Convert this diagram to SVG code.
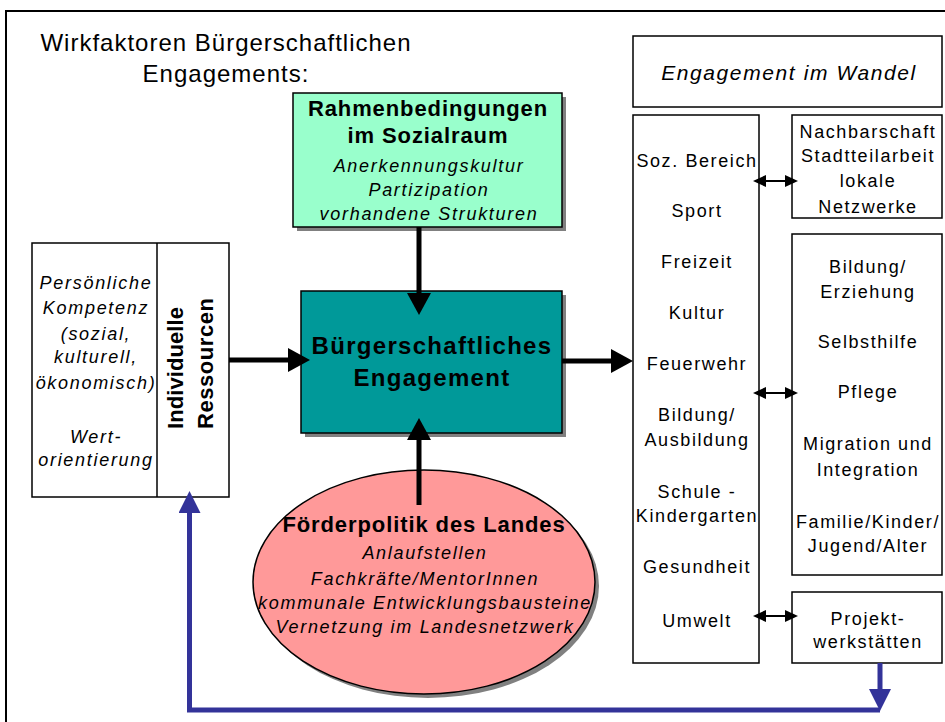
<svg xmlns="http://www.w3.org/2000/svg" width="945" height="722" viewBox="0 0 945 722">
<defs>
<style>
text{font-family:"Liberation Sans",Arial,sans-serif;fill:#000}
.title{font-size:24px;letter-spacing:1px;text-anchor:middle}
.hb{font-size:22px;font-weight:bold;letter-spacing:0.9px;text-anchor:middle}
.hc{font-size:24px;font-weight:bold;letter-spacing:1.3px;text-anchor:middle}
.it{font-size:18px;font-style:italic;letter-spacing:1.7px;text-anchor:middle}
.rg{font-size:18px;letter-spacing:1.6px;text-anchor:middle}
.iw{font-size:21px;font-style:italic;letter-spacing:1.6px;text-anchor:middle}
.vt{font-size:22px;font-weight:bold}
.box{fill:#fff;stroke:#000;stroke-width:1.5}
.shadow{fill:#808080}
.conn{stroke:#000;stroke-width:5;fill:none}
.dbl{stroke:#000;stroke-width:2;fill:none}
.blue{stroke:#333399;stroke-width:5;fill:none}
</style>
<marker id="ah" markerUnits="userSpaceOnUse" markerWidth="22" markerHeight="24" refX="0" refY="12" orient="auto"><path d="M0,0 L22,12 L0,24 z" fill="#000"/></marker>
<marker id="sh" markerUnits="userSpaceOnUse" markerWidth="13" markerHeight="12" refX="0" refY="6" orient="auto-start-reverse"><path d="M0,0 L13,6 L0,12 z" fill="#000"/></marker>
<marker id="bh" markerUnits="userSpaceOnUse" markerWidth="22" markerHeight="22" refX="0" refY="11" orient="auto"><path d="M0,0 L22,11 L0,22 z" fill="#333399"/></marker>
</defs>
<rect x="0" y="0" width="945" height="722" fill="#fff"/>
<rect x="6" y="11" width="1000" height="800" fill="none" stroke="#000" stroke-width="2"/>

<g id="title">
<text class="title" x="226" y="51">Wirkfaktoren Bürgerschaftlichen</text>
<text class="title" x="226" y="82">Engagements:</text>
</g>

<g id="rahmenbedingungen">
<rect class="shadow" x="297" y="97" width="269" height="134"/>
<rect x="293" y="93" width="269" height="134" fill="#99FFCC" stroke="#000" stroke-width="1.5"/>
<text class="hb" x="428" y="115.5">Rahmenbedingungen</text>
<text class="hb" x="428" y="143">im Sozialraum</text>
<text class="it" x="429" y="171.5">Anerkennungskultur</text>
<text class="it" x="429" y="196">Partizipation</text>
<text class="it" x="429" y="219.5">vorhandene Strukturen</text>
</g>

<g id="engagement">
<rect class="shadow" x="305" y="295" width="261" height="142"/>
<rect x="301" y="291" width="261" height="142" fill="#009999" stroke="#000" stroke-width="1.5"/>
<text class="hc" x="432" y="354">Bürgerschaftliches</text>
<text class="hc" x="432" y="386">Engagement</text>
</g>

<g id="foerderpolitik">
<ellipse class="shadow" cx="428" cy="586" rx="171" ry="112"/>
<ellipse cx="424" cy="582" rx="171" ry="112" fill="#FF9999" stroke="#000" stroke-width="1.5"/>
<text class="hb" x="424" y="532">Förderpolitik des Landes</text>
<text class="it" x="425" y="559">Anlaufstellen</text>
<text class="it" x="425" y="585">Fachkräfte/MentorInnen</text>
<text class="it" x="425" y="609">kommunale Entwicklungsbausteine</text>
<text class="it" x="425" y="633">Vernetzung im Landesnetzwerk</text>
</g>

<g id="ressourcen">
<rect class="box" x="32" y="243" width="197" height="254"/>
<line x1="157" y1="243" x2="157" y2="497" stroke="#000" stroke-width="1.5"/>
<text class="it" x="96" y="289">Persönliche</text>
<text class="it" x="96" y="314">Kompetenz</text>
<text class="it" x="96" y="340">(sozial,</text>
<text class="it" x="96" y="363">kulturell,</text>
<text class="it" x="96" y="389">ökonomisch)</text>
<text class="it" x="96" y="443">Wert-</text>
<text class="it" x="96" y="466">orientierung</text>
<text class="vt" transform="translate(183,429) rotate(-90)" textLength="122" lengthAdjust="spacing">Individuelle</text>
<text class="vt" transform="translate(213,429) rotate(-90)" textLength="131" lengthAdjust="spacing">Ressourcen</text>
</g>

<g id="wandel">
<rect class="box" x="633" y="36" width="309" height="71"/>
<text class="iw" x="789" y="80">Engagement im Wandel</text>
</g>

<g id="bereiche">
<rect class="box" x="633" y="115" width="126" height="548"/>
<text class="rg" x="697" y="167">Soz. Bereich</text>
<text class="rg" x="697" y="217">Sport</text>
<text class="rg" x="697" y="268">Freizeit</text>
<text class="rg" x="697" y="319">Kultur</text>
<text class="rg" x="697" y="370">Feuerwehr</text>
<text class="rg" x="697" y="421">Bildung/</text>
<text class="rg" x="697" y="446">Ausbildung</text>
<text class="rg" x="697" y="498">Schule -</text>
<text class="rg" x="697" y="522">Kindergarten</text>
<text class="rg" x="697" y="573">Gesundheit</text>
<text class="rg" x="697" y="627">Umwelt</text>
</g>

<g id="nachbarschaft">
<rect class="box" x="792" y="115" width="150" height="103"/>
<text class="rg" x="868" y="138">Nachbarschaft</text>
<text class="rg" x="868" y="162">Stadtteilarbeit</text>
<text class="rg" x="868" y="187">lokale</text>
<text class="rg" x="868" y="213">Netzwerke</text>
</g>

<g id="bildung">
<rect class="box" x="792" y="234" width="150" height="341"/>
<text class="rg" x="868" y="273">Bildung/</text>
<text class="rg" x="868" y="298">Erziehung</text>
<text class="rg" x="868" y="348">Selbsthilfe</text>
<text class="rg" x="868" y="398">Pflege</text>
<text class="rg" x="868" y="450">Migration und</text>
<text class="rg" x="868" y="476">Integration</text>
<text class="rg" x="868" y="528">Familie/Kinder/</text>
<text class="rg" x="868" y="552">Jugend/Alter</text>
</g>

<g id="projekt">
<rect class="box" x="792" y="592" width="150" height="71"/>
<text class="rg" x="868" y="625">Projekt-</text>
<text class="rg" x="868" y="648">werkstätten</text>
</g>

<g id="connectors">
<line class="conn" x1="419" y1="227" x2="419" y2="293" marker-end="url(#ah)"/>
<line class="conn" x1="419" y1="505" x2="419" y2="440" marker-end="url(#ah)"/>
<line class="conn" x1="229" y1="360" x2="288" y2="360" marker-end="url(#ah)"/>
<line class="conn" x1="562" y1="361" x2="611" y2="361" marker-end="url(#ah)"/>
<line class="dbl" x1="766" y1="181" x2="785" y2="181" marker-start="url(#sh)" marker-end="url(#sh)"/>
<line class="dbl" x1="766" y1="393" x2="785" y2="393" marker-start="url(#sh)" marker-end="url(#sh)"/>
<line class="dbl" x1="766" y1="616" x2="785" y2="616" marker-start="url(#sh)" marker-end="url(#sh)"/>
<path class="blue" d="M880,663 V689" marker-end="url(#bh)"/>
<path class="blue" d="M880,710 H189.5 V513" marker-end="url(#bh)"/>
</g>
</svg>
